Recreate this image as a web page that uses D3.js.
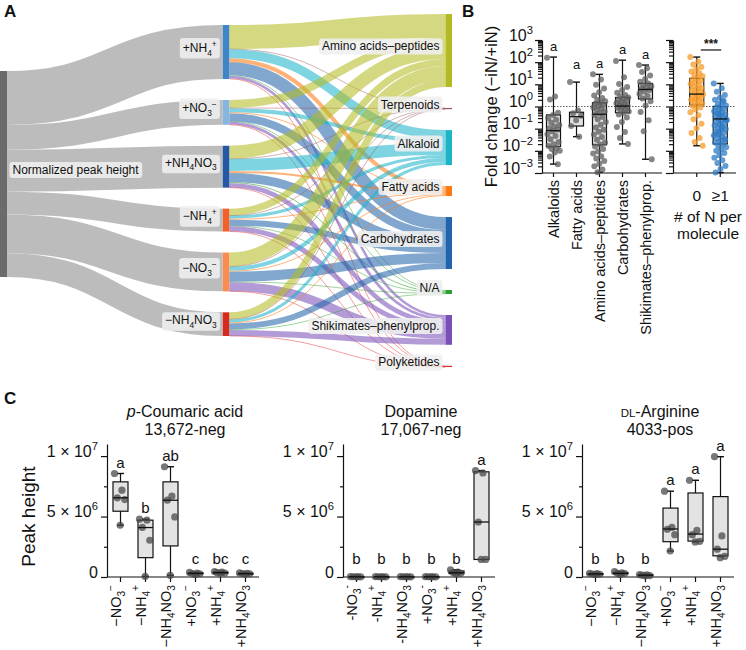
<!DOCTYPE html>
<html lang="en">
<head>
<meta charset="UTF-8">
<title>Nitrogen treatments and metabolite classes</title>
<script src="https://d3js.org/d3.v7.min.js"></script>
<style>
  body { margin: 0; background: #fff; }
  svg { display: block; font-family: "Liberation Sans", Arial, sans-serif; fill: #111; }
</style>
</head>
<body>
<svg id="fig" width="746" height="650"></svg>
<script>
// ---------------- Panel A: sankey data ----------------
const treatments = ["+NH_4^+", "+NO_3^−", "+NH_4NO_3", "−NH_4^+", "−NO_3^−", "−NH_4NO_3"];
const treatmentColors = ["#3f86c8", "#86b6e0", "#2457a4", "#f2612a", "#fa8c4f", "#d52b1e"];
const compoundClasses = ["Amino acids–peptides", "Terpenoids", "Alkaloid", "Fatty acids",
  "Carbohydrates", "N/A", "Shikimates–phenylprop.", "Polyketides"];
const classColors = ["#b3ba22", "#9c5258", "#1cb4c9", "#ff7a14", "#2264ab", "#2ca02c", "#7a50b8", "#e5262a"];
// rows = treatment, columns = compound class (share of normalized peak height)
const classFlows = [
  [24, 0.3, 9, 4, 13, 0.8, 2.5, 0.4],
  [8, 0.2, 4, 1, 8, 0.6, 2.8, 0.2],
  [13, 0.2, 12, 2, 9, 1, 4.5, 0.2],
  [7, 0.1, 3, 1, 6, 0.6, 5, 0.2],
  [14, 0.2, 4, 1, 10, 0.5, 9, 0.1],
  [7, 0.1, 3, 1, 6, 0.5, 6, 0.1]
];

// ---------------- Panel B: fold change (log10) ----------------
const bCategories = ["Alkaloids", "Fatty acids", "Amino acids–peptides", "Carbohydrates", "Shikimates–phenylprop."];
// min, q1, median, q3, max  (log10 of fold change)
const bBoxes = [
  [-2.6, -1.81, -1.09, -0.38, 2.23],
  [-1.36, -0.88, -0.46, -0.26, 1.1],
  [-2.97, -1.73, -0.35, 0.17, 1.45],
  [-1.69, -0.28, 0.02, 0.41, 2.09],
  [-2.38, 0.34, 0.77, 1.04, 1.87]
];
const bPoints = [
  [2.2, 0.45, 0.32, -0.28, -0.38, -0.52, -0.6, -0.72, -0.83, -0.9, -0.98, -1.05, -1.12, -1.25, -1.33,
   -1.48, -1.6, -1.7, -1.78, -1.86, -1.92, -2.0, -2.08, -2.25, -2.6],
  [1.1, -0.18, -0.3, -0.42, -0.62, -0.88, -1.36],
  [1.45, 1.22, 0.98, 0.81, 0.64, 0.5, 0.38, 0.3, 0.24, 0.18, 0.12, 0.07, 0.02, -0.04, -0.09, -0.16,
   -0.22, -0.3, -0.38, -0.47, -0.58, -0.7, -0.82, -0.95, -1.05, -1.14, -1.26, -1.38, -1.5, -1.62,
   -1.71, -1.8, -1.92, -2.03, -2.12, -2.24, -2.35, -2.46, -2.58, -2.7, -2.84, -2.97],
  [2.05, 1.32, 1.02, 0.88, 0.74, 0.62, 0.52, 0.46, 0.41, 0.36, 0.31, 0.26, 0.2, 0.15, 0.1, 0.06,
   0.02, -0.02, -0.06, -0.11, -0.16, -0.22, -0.28, -0.36, -0.5, -0.7, -0.92, -1.15, -1.42, -1.69],
  [1.87, 1.72, 1.56, 1.4, 1.24, 1.12, 1.04, 0.97, 0.91, 0.85, 0.8, 0.74, 0.68, 0.58, 0.47, 0.36,
   0.24, 0.05, -0.25, -0.62, -1.12, -2.38]
];
const bLetters = ["a", "a", "a", "a", "a"];

const nGroups = ["0", "≥1"];
const nBoxes = [
  [-1.77, 0.07, 0.56, 1.27, 2.23],
  [-2.98, -1.69, -0.56, 0.0, 1.04]
];
const nPoints = [
  [2.23, 2.02, 1.9, 1.78, 1.68, 1.58, 1.5, 1.42, 1.36, 1.29, 1.22, 1.15, 1.08, 1.02, 0.96, 0.9, 0.84,
   0.78, 0.72, 0.66, 0.6, 0.55, 0.5, 0.45, 0.4, 0.35, 0.3, 0.25, 0.2, 0.14, 0.08, 0.03, -0.04, -0.14,
   -0.26, -0.4, -0.58, -0.78, -0.98, -1.2, -1.42, -1.6, -1.77],
  [1.04, 0.82, 0.66, 0.52, 0.4, 0.3, 0.21, 0.12, 0.05, 0.0, -0.05, -0.1, -0.16, -0.21, -0.26, -0.31,
   -0.36, -0.41, -0.46, -0.51, -0.56, -0.6, -0.65, -0.7, -0.76, -0.81, -0.86, -0.92, -0.97, -1.02,
   -1.08, -1.13, -1.19, -1.25, -1.31, -1.37, -1.43, -1.5, -1.56, -1.62, -1.69, -1.76, -1.84, -1.92,
   -2.0, -2.1, -2.2, -2.31, -2.43, -2.55, -2.68, -2.82, -2.98, 0.26, -0.33, -0.62, -0.94, -1.22, -1.47]
];
const nColors = ["#f59b28", "#2f7bc4"];
const sigLevel = 2.55; // log10 height of the *** bar

// ---------------- Panel C: peak heights (×10^6) ----------------
const cTreatments = ["−NO_3^−", "−NH_4^+", "−NH_4NO_3", "+NO_3^−", "+NH_4^+", "+NH_4NO_3"];
const cTreatmentsHyphen = ["-NO_3^-", "-NH_4^+", "-NH_4NO_3", "+NO_3^-", "+NH_4^+", "+NH_4NO_3"];
const cTitles = ["p-Coumaric acid", "Dopamine", "DL-Arginine"];
const cIds = ["13,672-neg", "17,067-neg", "4033-pos"];
const cTickValues = [0, 5, 10];
const cTickLabels = ["0", "5 × 10^6", "1 × 10^7"];

const coumaricBoxes = [[4.28, 5.44, 6.55, 7.87, 8.56], [0.05, 1.6, 4.09, 4.7, 4.78], [0.14, 2.57, 6.35, 7.87, 9.12],
  [0.2, 0.25, 0.3, 0.35, 0.38], [0.3, 0.33, 0.36, 0.4, 0.45], [0.22, 0.25, 0.28, 0.31, 0.34]];
const coumaricPoints = [[8.56, 7.18, 6.55, 6.4, 4.28], [4.78, 4.7, 4.1, 3.04, 0.05], [9.12, 6.7, 6.35, 4.97, 0.14],
  [0.38, 0.32, 0.28, 0.26, 0.2], [0.45, 0.4, 0.36, 0.33, 0.3], [0.34, 0.3, 0.28, 0.26, 0.22]];
const coumaricLetters = ["a", "b", "ab", "c", "bc", "c"];

const dopamineBoxes = [[0.01, 0.015, 0.02, 0.025, 0.03], [0.01, 0.015, 0.02, 0.025, 0.03], [0.01, 0.015, 0.02, 0.025, 0.03],
  [0.01, 0.015, 0.02, 0.025, 0.03], [0.25, 0.28, 0.35, 0.5, 0.6], [1.45, 1.45, 4.55, 8.7, 8.8]];
const dopaminePoints = [[0.03, 0.02, 0.02, 0.015, 0.01], [0.03, 0.02, 0.02, 0.015, 0.01], [0.03, 0.02, 0.02, 0.015, 0.01],
  [0.03, 0.02, 0.02, 0.015, 0.01], [0.6, 0.4, 0.35, 0.3, 0.25], [8.8, 8.6, 4.55, 1.45, 1.45]];
const dopamineLetters = ["b", "b", "b", "b", "b", "a"];

const arginineBoxes = [[0.2, 0.22, 0.25, 0.28, 0.3], [0.2, 0.28, 0.3, 0.35, 0.45], [0.1, 0.12, 0.15, 0.18, 0.2],
  [2.15, 2.92, 3.97, 5.7, 7.1], [2.9, 2.97, 3.55, 6.95, 8.0], [1.7, 1.75, 2.3, 6.65, 9.95]];
const argininePoints = [[0.3, 0.28, 0.25, 0.22, 0.2], [0.45, 0.35, 0.3, 0.28, 0.2], [0.2, 0.18, 0.15, 0.12, 0.1],
  [7.1, 4.1, 3.95, 3.5, 2.15], [8.0, 3.85, 3.5, 2.95, 2.9], [9.95, 3.4, 2.3, 1.7, 1.6]];
const arginineLetters = ["b", "b", "b", "a", "a", "a"];

// ---------------- helpers ----------------
const svg = d3.select("#fig");

// "NH_4^+" -> NH with subscript 4 and superscript +
function rich(sel, str, size) {
  sel.text(null);
  const re = /([_^])(\{[^}]*\}|.)|([^_^]+)/g;
  let m, shift = 0;
  while ((m = re.exec(str)) !== null) {
    if (m[3] !== undefined) {
      sel.append("tspan").attr("dy", -shift).text(m[3]);
      shift = 0;
    } else {
      const s = m[1] === "_" ? size * 0.3 : -size * 0.42;
      sel.append("tspan").attr("dy", s - shift).attr("font-size", size * 0.7)
        .text(m[2].replace(/[{}]/g, ""));
      shift = s;
    }
  }
}

// golden-ratio jitter, -0.5..0.5
const jit = i => ((i * 0.618034) % 1) - 0.5;

function styleAxis(g) {
  g.attr("color", "#111");
  g.selectAll("path, line").attr("stroke-width", 1.2);
}

// panel letters
[["A", 4, 17], ["B", 462, 17], ["C", 4, 404]].forEach(([t, x, y]) => {
  svg.append("text").attr("x", x).attr("y", y).attr("font-size", 17).attr("font-weight", "bold").text(t);
});

// ---------------- Panel A ----------------
const gA = svg.append("g");
const nodeW = 6.5, nodePad = 21, sTop = 14, sBottom = 367;
const colX = d3.scaleLinear().domain([0, 2]).range([0, 445.5]);
const colMid = [174, 180.5, 190.5];

const rowSums = classFlows.map(r => d3.sum(r));
const colSums = compoundClasses.map((c, j) => d3.sum(classFlows, r => r[j]));
const total = d3.sum(rowSums);
const ky = d3.scaleLinear().domain([0, total])
  .range([0, sBottom - sTop - nodePad * (compoundClasses.length - 1)]);

function stack(values, mid) {
  const h = d3.sum(values, v => ky(v)) + nodePad * (values.length - 1);
  let y = mid - h / 2;
  return values.map(v => {
    const n = { y0: y, y1: y + ky(v) };
    y = n.y1 + nodePad;
    return n;
  });
}
const srcNode = stack([total], colMid[0])[0];
const midNodes = stack(rowSums, colMid[1]);
const clsNodes = stack(colSums, colMid[2]);

const grayLinks = [];
let sy = srcNode.y0;
rowSums.forEach((v, i) => {
  const w = ky(v);
  grayLinks.push({ source: [colX(0) + nodeW, sy + w / 2], target: [colX(1), midNodes[i].y0 + w / 2], w });
  sy += w;
});

const colorLinks = [];
const midOff = midNodes.map(n => n.y0);
const clsOff = clsNodes.map(n => n.y0);
classFlows.forEach((row, i) => row.forEach((v, j) => {
  const w = ky(v);
  colorLinks.push({
    source: [colX(1) + nodeW, midOff[i] + w / 2],
    target: [colX(2), clsOff[j] + w / 2],
    w, j
  });
  midOff[i] += w;
  clsOff[j] += w;
}));

const linkPath = d3.linkHorizontal();
gA.append("g").selectAll("path").data(grayLinks).join("path")
  .attr("d", linkPath).attr("fill", "none").attr("stroke", "#bcbcbc")
  .attr("stroke-width", d => d.w);
gA.append("g").selectAll("path").data(colorLinks).join("path")
  .attr("d", linkPath).attr("fill", "none")
  .attr("stroke", d => classColors[d.j]).attr("stroke-opacity", 0.57)
  .attr("stroke-width", d => Math.max(0.8, d.w));

gA.append("rect").attr("x", colX(0)).attr("y", srcNode.y0).attr("width", nodeW + 0.5)
  .attr("height", srcNode.y1 - srcNode.y0).attr("fill", "#6b6b6b");
gA.append("g").selectAll("rect").data(midNodes).join("rect")
  .attr("x", colX(1)).attr("y", d => d.y0).attr("width", nodeW)
  .attr("height", d => d.y1 - d.y0).attr("fill", (d, i) => treatmentColors[i]);
gA.append("g").selectAll("rect").data(clsNodes).join("rect")
  .attr("x", colX(2)).attr("y", d => d.y0).attr("width", nodeW)
  .attr("height", d => Math.max(1.2, d.y1 - d.y0)).attr("fill", (d, i) => classColors[i]);

function labelBox(x, y, str, anchor) {
  const g = gA.append("g");
  const t = g.append("text").attr("x", x).attr("y", y).attr("dy", "0.35em")
    .attr("text-anchor", anchor).attr("font-size", 12);
  rich(t, str, 12);
  const b = t.node().getBBox();
  g.insert("rect", () => t.node())
    .attr("x", b.x - 3).attr("y", b.y - 1).attr("width", b.width + 6).attr("height", b.height + 2)
    .attr("rx", 3).attr("fill", "#efefef").attr("fill-opacity", 0.88);
}
labelBox(colX(0) + nodeW + 6, (srcNode.y0 + srcNode.y1) / 2, "Normalized peak height", "start");
treatments.forEach((t, i) => labelBox(colX(1) - 6, (midNodes[i].y0 + midNodes[i].y1) / 2, t, "end"));
compoundClasses.forEach((c, j) => labelBox(colX(2) - 6, (clsNodes[j].y0 + clsNodes[j].y1) / 2, c, "end"));

// ---------------- Panel B ----------------
const yB = d3.scaleLog().domain([1e-3, 1e3]).range([173, 40]);
const logTicks = yB.ticks();
const isMajor = v => Math.abs(Math.log10(v) - Math.round(Math.log10(v))) < 1e-9;
const majorTicks = logTicks.filter(isMajor);
const minorTicks = logTicks.filter(v => !isMajor(v));

function logAxis(x0, labels) {
  const gMin = svg.append("g").attr("transform", `translate(${x0},0)`)
    .call(d3.axisLeft(yB).tickValues(minorTicks).tickSize(4).tickSizeOuter(0).tickFormat(""));
  styleAxis(gMin);
  gMin.selectAll(".tick text").remove();
  const gMaj = svg.append("g").attr("transform", `translate(${x0},0)`)
    .call(d3.axisLeft(yB).tickValues(majorTicks).tickSize(7).tickSizeOuter(0));
  styleAxis(gMaj);
  gMaj.select(".domain").remove();
  gMaj.selectAll(".tick text").each(function (d) {
    const t = d3.select(this).attr("font-size", 16).attr("x", -9).attr("dy", "0.36em");
    if (labels) {
      const e = Math.round(Math.log10(d));
      rich(t, "10^{" + String(e).replace("-", "−") + "}", 16);
    } else t.remove();
  });
}

function boxPlot(g, cx, w, s, y, fill, pts, ptColor, ptR, spread) {
  const [mn, q1, md, q3, mx] = s.map(y);
  g.append("line").attr("x1", cx).attr("x2", cx).attr("y1", mn).attr("y2", mx)
    .attr("stroke", "#111").attr("stroke-width", 1.2);
  [mn, mx].forEach(v => g.append("line").attr("x1", cx - 3.5).attr("x2", cx + 3.5)
    .attr("y1", v).attr("y2", v).attr("stroke", "#111").attr("stroke-width", 1.4));
  g.append("rect").attr("x", cx - w / 2).attr("y", q3).attr("width", w).attr("height", Math.max(1, q1 - q3))
    .attr("fill", fill).attr("stroke", "#111").attr("stroke-width", 1.2);
  g.append("g").selectAll("circle").data(pts).join("circle")
    .attr("cx", (d, i) => cx + jit(i) * spread).attr("cy", d => y(d))
    .attr("r", ptR).attr("fill", ptColor).attr("fill-opacity", 0.75);
  g.append("line").attr("x1", cx - w / 2).attr("x2", cx + w / 2).attr("y1", md).attr("y2", md)
    .attr("stroke", "#111").attr("stroke-width", 1.3);
}

const yBv = v => yB(Math.pow(10, v));
const xB = d3.scaleBand().domain(bCategories).range([542, 657]);
const xN = d3.scaleBand().domain(nGroups).range([685, 732]);

// reference line at fold change = 1
[[542, 662], [673, 736]].forEach(([a, b]) => svg.append("line")
  .attr("x1", a).attr("x2", b).attr("y1", yB(1)).attr("y2", yB(1))
  .attr("stroke", "#666").attr("stroke-width", 1.2).attr("stroke-dasharray", "1.5,1.5"));

logAxis(542, true);
logAxis(673, false);

const gBx = svg.append("g").attr("transform", "translate(0,173)")
  .call(d3.axisBottom(xB).tickSize(4).tickSizeOuter(0));
styleAxis(gBx);
gBx.select(".domain").remove();
gBx.selectAll(".tick text").attr("font-size", 14.5).attr("transform", "rotate(-90)")
  .attr("text-anchor", "end").attr("x", -7).attr("y", 0).attr("dy", "0.36em");
svg.append("line").attr("x1", 542).attr("x2", 662).attr("y1", 173).attr("y2", 173)
  .attr("stroke", "#111").attr("stroke-width", 1.2);

const gNx = svg.append("g").attr("transform", "translate(0,173)")
  .call(d3.axisBottom(xN).tickSize(4).tickSizeOuter(0));
styleAxis(gNx);
gNx.select(".domain").remove();
gNx.selectAll(".tick text").attr("font-size", 15.5).attr("y", 17);
svg.append("line").attr("x1", 673).attr("x2", 736).attr("y1", 173).attr("y2", 173)
  .attr("stroke", "#111").attr("stroke-width", 1.2);

const gBb = svg.append("g");
bCategories.forEach((c, i) => {
  const cx = xB(c) + xB.bandwidth() / 2;
  boxPlot(gBb, cx, 14, bBoxes[i], yBv, "#e2e2e2", bPoints[i], "#5e5e5e", 3, 13);
  gBb.append("text").attr("x", cx).attr("y", Math.min(yBv(bBoxes[i][4]) - 6, yBv(1.7)))
    .attr("text-anchor", "middle").attr("font-size", 13).text(bLetters[i]);
});
nGroups.forEach((c, i) => {
  const cx = xN(c) + xN.bandwidth() / 2;
  boxPlot(gBb, cx, 14, nBoxes[i], yBv, "none", nPoints[i], nColors[i], 3, 13);
});
// significance bar
{
  const x0 = xN(nGroups[0]) + xN.bandwidth() / 2 + 4, x1 = xN(nGroups[1]) + xN.bandwidth() / 2 + 1;
  svg.append("line").attr("x1", x0).attr("x2", x1).attr("y1", yBv(sigLevel)).attr("y2", yBv(sigLevel))
    .attr("stroke", "#111").attr("stroke-width", 1.2);
  svg.append("text").attr("x", (x0 + x1) / 2).attr("y", yBv(sigLevel) - 2).attr("text-anchor", "middle")
    .attr("font-size", 12).attr("font-weight", "bold").text("***");
}

svg.append("text").attr("transform", `translate(497,${yB(1)}) rotate(-90)`)
  .attr("text-anchor", "middle").attr("font-size", 16.5).text("Fold change (−iN/+iN)");
svg.append("text").attr("x", 708).attr("y", 222).attr("text-anchor", "middle").attr("font-size", 15.5).text("# of N per");
svg.append("text").attr("x", 708).attr("y", 239).attr("text-anchor", "middle").attr("font-size", 15.5).text("molecule");

// ---------------- Panel C ----------------
const yC = d3.scaleLinear().domain([0, 11]).range([577, 444]);
const cPlots = [
  { boxes: coumaricBoxes, points: coumaricPoints, letters: coumaricLetters, labels: cTreatments, x0: 107 },
  { boxes: dopamineBoxes, points: dopaminePoints, letters: dopamineLetters, labels: cTreatmentsHyphen, x0: 343 },
  { boxes: arginineBoxes, points: argininePoints, letters: arginineLetters, labels: cTreatments, x0: 582 }
];
const cWidth = 152;

cPlots.forEach((p, k) => {
  const g = svg.append("g");
  const x = d3.scaleBand().domain(p.labels).range([p.x0 + 1, p.x0 + 151]);

  // title
  const cx = p.x0 + cWidth / 2 + 2;
  const t1 = g.append("text").attr("x", cx).attr("y", 417).attr("text-anchor", "middle").attr("font-size", 16);
  const title = cTitles[k];
  if (title.startsWith("p-")) {
    t1.append("tspan").attr("font-style", "italic").text("p");
    t1.append("tspan").text(title.slice(1));
  } else if (title.startsWith("DL-")) {
    t1.append("tspan").attr("font-size", 11.5).text("DL");
    t1.append("tspan").text(title.slice(2));
  } else t1.text(title);
  g.append("text").attr("x", cx).attr("y", 435).attr("text-anchor", "middle").attr("font-size", 16).text(cIds[k]);

  // y axis
  const gMin = g.append("g").attr("transform", `translate(${p.x0},0)`)
    .call(d3.axisLeft(yC).tickValues([2.5, 7.5]).tickSize(3).tickSizeOuter(0).tickFormat(""));
  styleAxis(gMin);
  gMin.selectAll(".tick text").remove();
  const gMaj = g.append("g").attr("transform", `translate(${p.x0},0)`)
    .call(d3.axisLeft(yC).tickValues(cTickValues).tickSize(6).tickSizeOuter(0));
  styleAxis(gMaj);
  gMaj.select(".domain").remove();
  gMaj.selectAll(".tick text").each(function (d, i) {
    rich(d3.select(this).attr("font-size", 16).attr("dy", "0.36em"), cTickLabels[i], 16);
  });

  // x axis
  const gx = g.append("g").attr("transform", "translate(0,577)")
    .call(d3.axisBottom(x).tickSize(5).tickSizeOuter(0));
  styleAxis(gx);
  gx.select(".domain").remove();
  gx.selectAll(".tick text").each(function (d) {
    const t = d3.select(this).attr("font-size", 14.5).attr("transform", "rotate(-90)")
      .attr("text-anchor", "end").attr("x", -8).attr("y", 0).attr("dy", "0.36em");
    rich(t, d, 14.5);
  });
  g.append("line").attr("x1", p.x0).attr("x2", p.x0 + cWidth).attr("y1", 577).attr("y2", 577)
    .attr("stroke", "#111").attr("stroke-width", 1.2);

  p.labels.forEach((lab, i) => {
    const bx = x(lab) + x.bandwidth() / 2;
    boxPlot(g, bx, 15, p.boxes[i], yC, "#e3e3e3", p.points[i], "#4a4a4a", 3.6, 12);
    g.append("text").attr("x", bx).attr("y", Math.min(yC(p.boxes[i][4]) - 6, yC(0) - 13))
      .attr("text-anchor", "middle").attr("font-size", 15).text(p.letters[i]);
  });
});

svg.append("text").attr("transform", `translate(35,${yC(5)}) rotate(-90)`)
  .attr("text-anchor", "middle").attr("font-size", 19).text("Peak height");
</script>
</body>
</html>
